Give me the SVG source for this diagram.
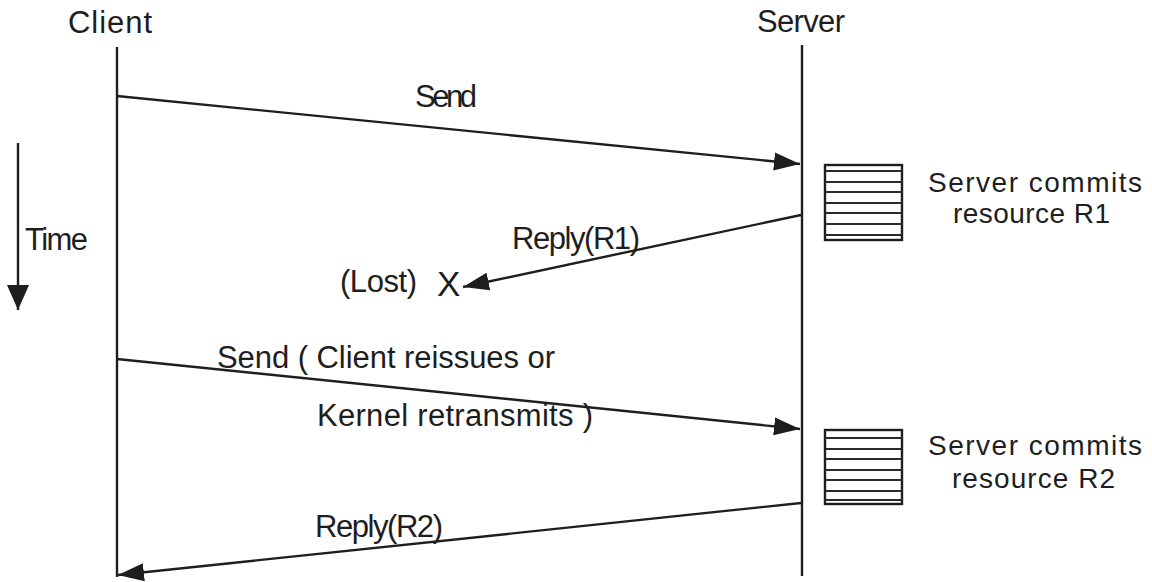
<svg xmlns="http://www.w3.org/2000/svg" width="1152" height="582" viewBox="0 0 1152 582">
  <style>
    .lbl { font-family: "Liberation Sans", Arial, Helvetica, sans-serif; font-size: 31px; fill: #1e1e1e; }
    .note { font-family: "Liberation Sans", Arial, Helvetica, sans-serif; font-size: 28px; fill: #1e1e1e; }
    .life { stroke: #1e1e1e; stroke-width: 2.4; fill: none; }
    .msg { stroke: #1e1e1e; stroke-width: 2.4; fill: none; marker-end: url(#head); }
    .box { fill: #fff; stroke: #1e1e1e; stroke-width: 2.4; }
    .stripe { stroke: #2a2a2a; stroke-width: 2; }
  </style>
  <defs>
    <marker id="head" markerUnits="userSpaceOnUse" markerWidth="27" markerHeight="20" refX="26" refY="10" orient="auto" viewBox="0 0 27 20">
      <path d="M0,1 L26,10 L0,19 Z" fill="#1e1e1e"/>
    </marker>
    <marker id="timehead" markerUnits="userSpaceOnUse" markerWidth="26" markerHeight="24" refX="25" refY="12" orient="auto" viewBox="0 0 26 24">
      <path d="M0,1 L25,12 L0,23 Z" fill="#1e1e1e"/>
    </marker>
  </defs>
  <rect width="1152" height="582" fill="#fff"/>

  <!-- time axis -->
  <g id="time-axis">
    <line x1="18" y1="143" x2="18" y2="310" stroke="#1e1e1e" stroke-width="2.4" marker-end="url(#timehead)"/>
    <text class="lbl" x="25" y="250" textLength="63">Time</text>
  </g>

  <!-- client lifeline -->
  <g id="client">
    <text class="lbl" x="68" y="33" textLength="84">Client</text>
    <line class="life" x1="117" y1="47" x2="117" y2="577"/>
  </g>

  <!-- server lifeline -->
  <g id="server">
    <text class="lbl" x="757" y="32" textLength="88">Server</text>
    <line class="life" x1="802" y1="45" x2="802" y2="576"/>
  </g>

  <!-- first commit -->
  <g id="commit-r1">
    <rect class="box" x="825" y="165" width="77" height="75"/>
    <g class="stripe">
      <line x1="825" y1="171" x2="902" y2="171"/>
      <line x1="825" y1="182" x2="902" y2="182"/>
      <line x1="825" y1="192" x2="902" y2="192"/>
      <line x1="825" y1="203" x2="902" y2="203"/>
      <line x1="825" y1="213" x2="902" y2="213"/>
      <line x1="825" y1="224" x2="902" y2="224"/>
      <line x1="825" y1="235" x2="902" y2="235"/>
    </g>
    <text class="note"><tspan x="928" y="192" textLength="214">Server commits</tspan><tspan x="953" y="223" textLength="157">resource R1</tspan></text>
  </g>

  <!-- second commit -->
  <g id="commit-r2">
    <rect class="box" x="825" y="430" width="77" height="74"/>
    <g class="stripe">
      <line x1="825" y1="438" x2="902" y2="438"/>
      <line x1="825" y1="449" x2="902" y2="449"/>
      <line x1="825" y1="459" x2="902" y2="459"/>
      <line x1="825" y1="470" x2="902" y2="470"/>
      <line x1="825" y1="480" x2="902" y2="480"/>
      <line x1="825" y1="491" x2="902" y2="491"/>
      <line x1="825" y1="500" x2="902" y2="500"/>
    </g>
    <text class="note"><tspan x="928" y="455" textLength="214">Server commits</tspan><tspan x="952" y="488" textLength="163">resource R2</tspan></text>
  </g>

  <!-- lost reply marker -->
  <g id="lost">
    <text class="lbl" x="340" y="292" textLength="77">(Lost)</text>
    <text class="lbl" x="437" y="296" style="font-size:35px" textLength="25">X</text>
  </g>

  <!-- messages -->
  <g id="connectors">
    <line class="msg" x1="117" y1="96" x2="800" y2="164"/>
    <line class="msg" x1="801" y1="215" x2="463" y2="287"/>
    <line class="msg" x1="117" y1="359" x2="800" y2="429"/>
    <line class="msg" x1="801" y1="503" x2="118" y2="575"/>
  </g>

  <!-- message labels -->
  <g id="message-labels">
    <text class="lbl" x="415" y="107" textLength="62">Send</text>
    <text class="lbl" x="512" y="249" textLength="128">Reply(R1)</text>
    <text class="lbl" x="217" y="368" textLength="338">Send ( Client reissues or</text>
    <text class="lbl" x="317" y="426" textLength="276">Kernel retransmits )</text>
    <text class="lbl" x="315" y="537" textLength="128">Reply(R2)</text>
  </g>
</svg>
